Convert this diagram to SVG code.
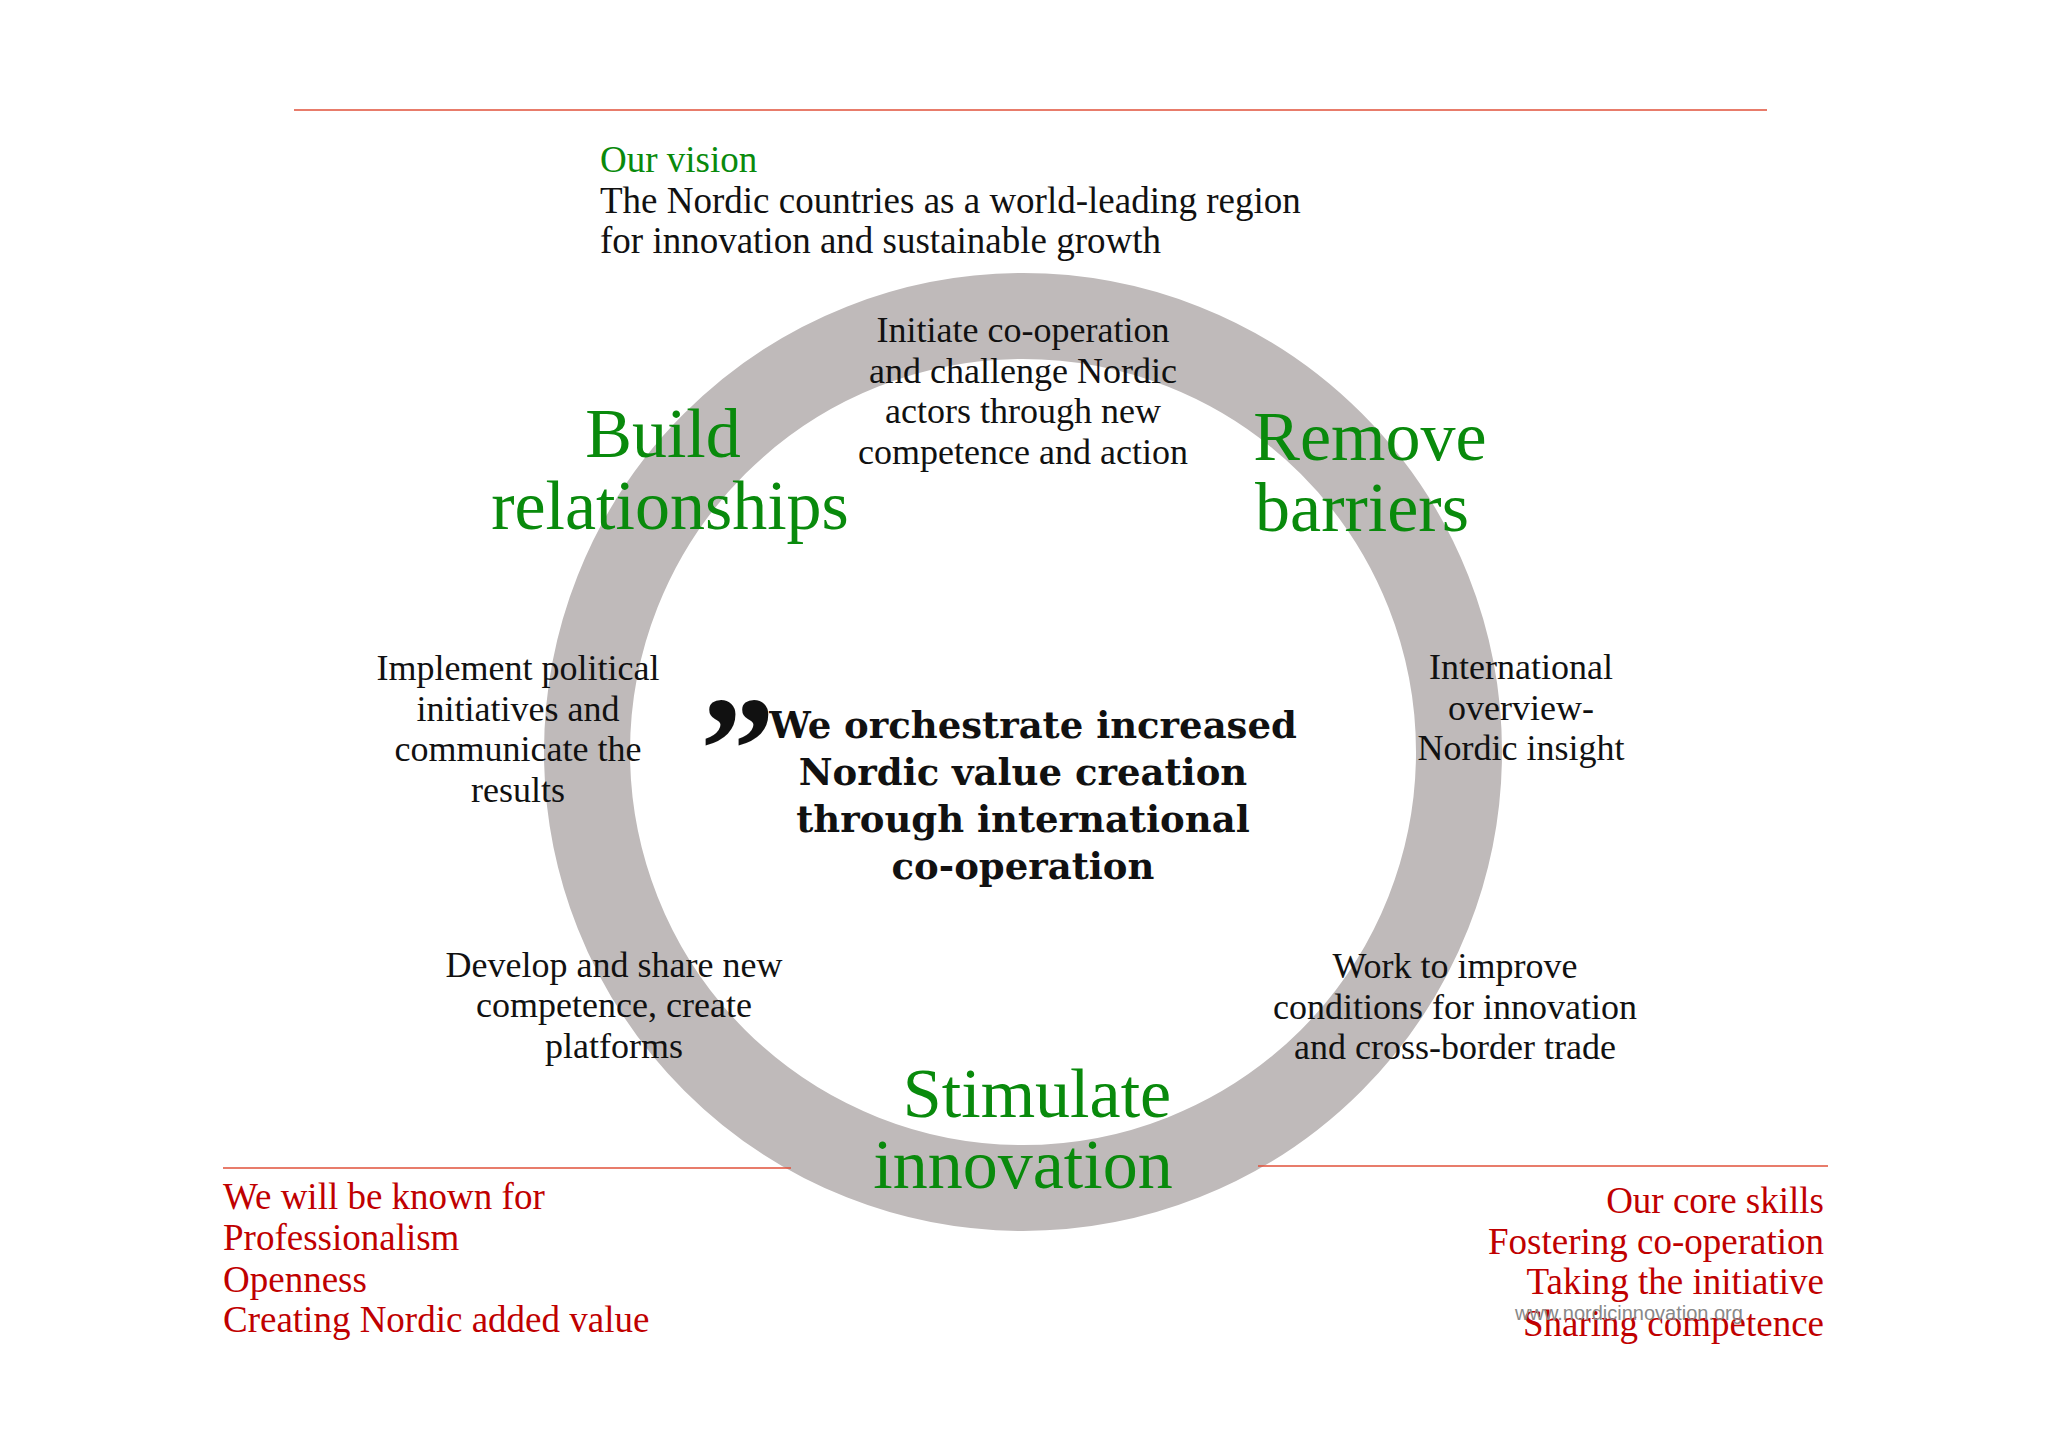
<svg xmlns="http://www.w3.org/2000/svg" width="2048" height="1447" viewBox="0 0 2048 1447">
<style>
.t{font-family:"Liberation Serif","Times New Roman",serif;font-size:36px;fill:#111;text-anchor:middle}
.g{font-family:"Liberation Serif","Times New Roman",serif;font-size:70px;fill:#098a0c;text-anchor:middle}
.r{font-family:"Liberation Serif","Times New Roman",serif;font-size:37px;fill:#c00000}
.b{font-family:"DejaVu Serif","Liberation Serif",serif;font-size:37px;font-weight:bold;fill:#111;text-anchor:middle}
.ln{stroke:#e0503a;stroke-width:1.5}
</style>
<rect width="2048" height="1447" fill="#fff"/>
<g id="ring">
<circle cx="1023" cy="752" r="436" fill="none" stroke="#bfbaba" stroke-width="86"/>
</g>
<g id="connectors">
<line class="ln" x1="294" y1="110" x2="1767" y2="110"/>
<line class="ln" x1="223" y1="1168" x2="791" y2="1168"/>
<line class="ln" x1="1258" y1="1166" x2="1828" y2="1166"/>
</g>
<g id="vision">
<text x="600" y="172" class="r" style="fill:#098a0c">Our vision</text>
<text x="600" y="213" class="r" style="fill:#111">The Nordic countries as a world-leading region</text>
<text x="600" y="253" class="r" style="fill:#111">for innovation and sustainable growth</text>
</g>
<g id="build"><text class="g" x="663" y="457">Build</text><text class="g" x="670" y="529">relationships</text></g>
<g id="remove"><text class="g" x="1370" y="460">Remove</text><text class="g" x="1362" y="531">barriers</text></g>
<g id="stimulate"><text class="g" x="1037" y="1117">Stimulate</text><text class="g" x="1023" y="1188">innovation</text></g>
<g id="top"><text class="t" x="1023" y="342">Initiate co-operation</text><text class="t" x="1023" y="383">and challenge Nordic</text><text class="t" x="1023" y="423">actors  through new</text><text class="t" x="1023" y="464">competence and action</text></g>
<g id="left"><text class="t" x="518" y="680">Implement political</text><text class="t" x="518" y="721">initiatives and</text><text class="t" x="518" y="761">communicate the</text><text class="t" x="518" y="802">results</text></g>
<g id="right"><text class="t" x="1521" y="679">International</text><text class="t" x="1521" y="720">overview-</text><text class="t" x="1521" y="760">Nordic insight</text></g>
<g id="bottomleft"><text class="t" x="614" y="977">Develop and share new</text><text class="t" x="614" y="1017">competence, create</text><text class="t" x="614" y="1058">platforms</text></g>
<g id="bottomright"><text class="t" x="1455" y="978">Work to improve</text><text class="t" x="1455" y="1019">conditions for innovation</text><text class="t" x="1455" y="1059">and cross-border trade</text></g>
<g id="center">
<text x="700" y="800" style="font-family:'Liberation Serif',serif;font-size:150px;font-weight:bold;fill:#111">”</text>
<text class="b" x="1033" y="738">We orchestrate increased</text>
<text class="b" x="1023" y="785">Nordic value creation</text>
<text class="b" x="1023" y="832">through international</text>
<text class="b" x="1023" y="879">co-operation</text>
</g>
<g id="known"><text class="r" x="223" y="1209">We will be known for</text><text class="r" x="223" y="1250">Professionalism</text><text class="r" x="223" y="1292">Openness</text><text class="r" x="223" y="1332">Creating Nordic added value</text></g>
<g id="skills"><text class="r" x="1824" y="1213" text-anchor="end">Our core skills</text><text class="r" x="1824" y="1254" text-anchor="end">Fostering co-operation</text><text class="r" x="1824" y="1294" text-anchor="end">Taking the initiative</text><text class="r" x="1824" y="1336" text-anchor="end">Sharing  competence</text></g>
<text x="1515" y="1320" style="font-family:'Liberation Sans',sans-serif;font-size:20px;fill:#888">www.nordicinnovation.org</text>
</svg>
